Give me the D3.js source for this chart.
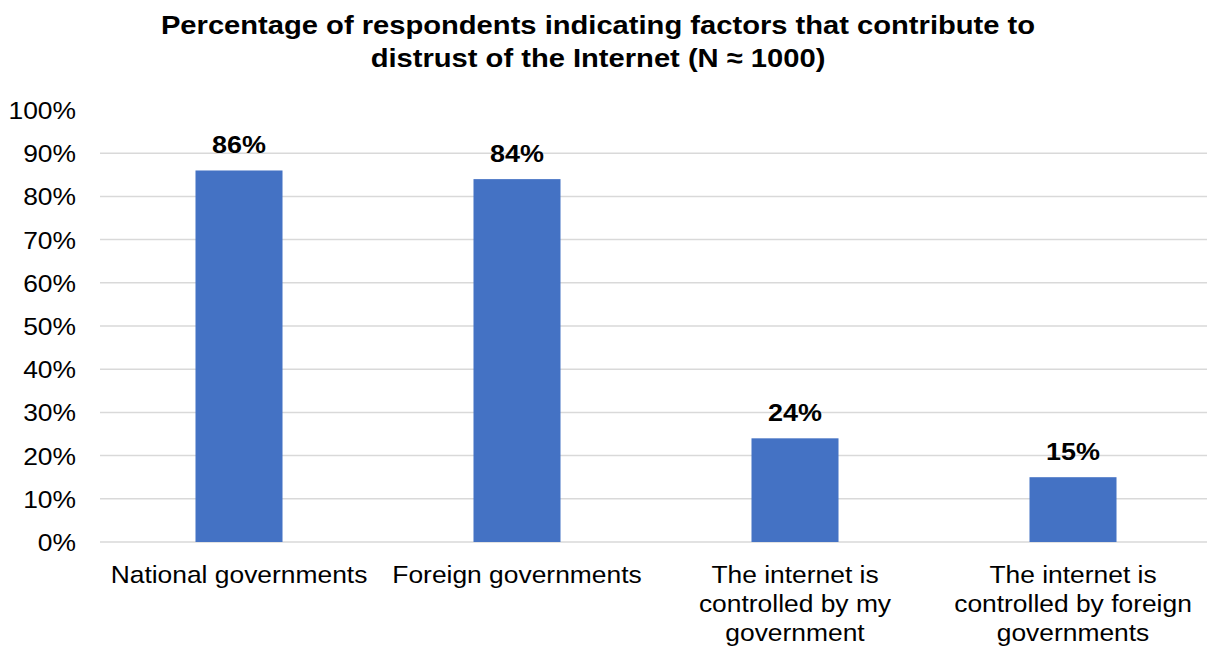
<!DOCTYPE html>
<html>
<head>
<meta charset="utf-8">
<script src="https://cdn.jsdelivr.net/npm/d3@7"></script>
<style>
  html, body { margin: 0; padding: 0; background: #fff; }
  svg { display: block; font-family: "Liberation Sans", Arial, sans-serif; }
</style>
</head>
<body>
<svg id="chart" width="1207" height="650"></svg>
<script>
// Survey results: share of respondents naming each factor
const categories = [
  ["National governments"],
  ["Foreign governments"],
  ["The internet is", "controlled by my", "government"],
  ["The internet is", "controlled by foreign", "governments"]
];
const values = [86, 84, 24, 15];
const yTicks = [0, 10, 20, 30, 40, 50, 60, 70, 80, 90, 100];
const titleLines = [
  "Percentage of respondents indicating factors that contribute to",
  "distrust of the Internet (N \u2248 1000)"
];

const svg = d3.select("#chart");
const margin = { left: 100, right: -5, top: 110, bottom: 108 };
const W = 1207, H = 650;
// Text is drawn slightly wide, as in the original export
const stretch = "scale(1.1,1)";

const x = d3.scaleBand()
  .domain(d3.range(values.length))
  .range([margin.left, W - margin.right])
  .paddingInner(0.687)
  .paddingOuter(0.687 / 2);

const y = d3.scaleLinear()
  .domain([0, 100])
  .range([H - margin.bottom, margin.top]);

// Title
svg.append("g")
  .selectAll("g")
  .data(titleLines)
  .join("g")
  .attr("transform", (d, i) => `translate(598,${34 + i * 33}) ${stretch}`)
  .append("text")
  .attr("text-anchor", "middle")
  .attr("font-size", 26.5)
  .attr("font-weight", "bold")
  .attr("fill", "#000")
  .text(d => d);

// Horizontal gridlines (no line at the top value)
svg.append("g")
  .selectAll("line")
  .data(yTicks.filter(t => t < 100))
  .join("line")
  .attr("x1", margin.left)
  .attr("x2", W)
  .attr("y1", d => y(d))
  .attr("y2", d => y(d))
  .attr("stroke", "#d9d9d9")
  .attr("stroke-width", 1.5);

// Y axis labels
const yAxis = d3.axisLeft(y)
  .tickValues(yTicks)
  .tickFormat(d => d + "%")
  .tickSize(0)
  .tickPadding(0);

const yg = svg.append("g")
  .attr("transform", `translate(76,0) ${stretch}`)
  .call(yAxis);
yg.select(".domain").remove();
yg.selectAll("text")
  .attr("font-size", 24)
  .attr("font-family", "'Liberation Sans', Arial, sans-serif")
  .attr("fill", "#000")
  .attr("dy", "0.35em");

// Bars
svg.append("g")
  .selectAll("rect")
  .data(values)
  .join("rect")
  .attr("x", (d, i) => x(i))
  .attr("width", x.bandwidth())
  .attr("y", d => y(d))
  .attr("height", d => y(0) - y(d))
  .attr("fill", "#4472C4");

// Value labels
svg.append("g")
  .selectAll("g")
  .data(values)
  .join("g")
  .attr("transform", (d, i) => `translate(${x(i) + x.bandwidth() / 2},${y(d) - 17}) ${stretch}`)
  .append("text")
  .attr("text-anchor", "middle")
  .attr("font-size", 24.5)
  .attr("font-weight", "bold")
  .attr("fill", "#000")
  .text(d => d + "%");

// Category labels (wrapped lines)
const cat = svg.append("g")
  .selectAll("g")
  .data(categories)
  .join("g")
  .attr("transform", (d, i) => `translate(${x(i) + x.bandwidth() / 2},583) ${stretch}`)
  .append("text")
  .attr("text-anchor", "middle")
  .attr("font-size", 24)
  .attr("fill", "#000");

cat.each(function(lines) {
  d3.select(this).selectAll("tspan")
    .data(lines)
    .join("tspan")
    .attr("x", 0)
    .attr("y", (d, j) => j * 29)
    .text(d => d);
});
</script>
</body>
</html>
